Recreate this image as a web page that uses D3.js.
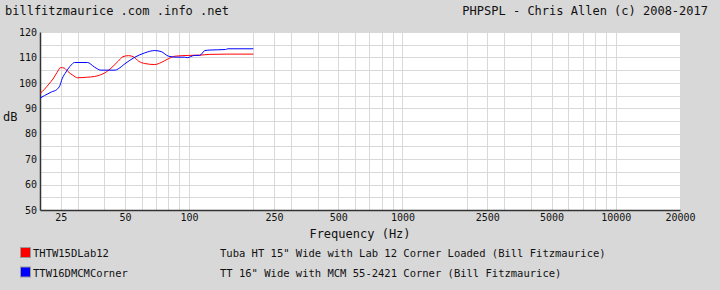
<!DOCTYPE html>
<html>
<head>
<meta charset="utf-8">
<script src="https://cdn.jsdelivr.net/npm/d3@7"></script>
<style>
  body { margin: 0; background: #d8d8d8; }
  text { font-family: "DejaVu Sans Mono", monospace; fill: #111; }
</style>
</head>
<body>
<div id="chart"></div>
<script>
// Chart data
var xTicks = [25, 50, 100, 250, 500, 1000, 2500, 5000, 10000, 20000];
var xGrid = [25, 30, 40, 50, 60, 70, 80, 90, 100, 200, 250, 300, 400, 500, 600, 700, 800, 900,
  1000, 2000, 2500, 3000, 4000, 5000, 6000, 7000, 8000, 9000, 10000];
var yTicks = [50, 60, 70, 80, 90, 100, 110, 120];

var seriesNames = ["THTW15DLab12", "TTW16DMCMCorner"];
var seriesDesc = ["Tuba HT 15\" Wide with Lab 12 Corner Loaded (Bill Fitzmaurice)",
  "TT 16\" Wide with MCM 55-2421 Corner (Bill Fitzmaurice)"];
var seriesColors = ["#ff0000", "#0000ff"];

var redFreq = [20, 21, 22, 23, 24, 25, 26, 27, 28.5, 30, 33, 36, 38, 40, 42, 44, 46.5, 49, 52, 55,
  58, 62, 69, 74, 80, 86, 100, 112, 125, 150, 200];
var redDb = [95.8, 97.5, 99.5, 101.5, 104, 106, 105.8, 104.5, 103, 102, 102.2, 102.5, 103, 103.8,
  105, 106.5, 108.5, 110.3, 110.7, 110.2, 108.5, 107.6, 107.2, 108, 109.5, 110.5, 110.8, 110.9,
  111.2, 111.3, 111.3];

var blueFreq = [20, 21, 22.6, 24, 24.8, 25.4, 26.5, 28, 29, 33.4, 36, 38.6, 45, 46.5, 50, 55.7, 62,
  69, 74, 80, 87, 95, 98, 106, 112, 118.6, 125, 148, 152, 200];
var blueDb = [94, 95, 96.4, 97.4, 99, 101.6, 104.3, 107, 108, 108, 106.2, 105, 105, 105.5, 107.5,
  110.1, 111.8, 112.7, 112.3, 110.5, 110.1, 110.1, 109.9, 110.8, 110.8, 112.7, 112.9, 113.1, 113.4,
  113.4];

var svgWidth = 720;
var svgHeight = 290;
var margin = { top: 32, right: 40, bottom: 80, left: 40 };
var chartWidth = svgWidth - margin.left - margin.right;
var chartHeight = svgHeight - margin.top - margin.bottom;

var svg = d3.select("#chart")
  .append("svg")
  .attr("width", svgWidth)
  .attr("height", svgHeight);

svg.append("rect")
  .attr("width", svgWidth)
  .attr("height", svgHeight)
  .attr("fill", "#d8d8d8");

svg.append("text")
  .attr("x", 5)
  .attr("y", 15)
  .style("font-size", "12px")
  .text("billfitzmaurice .com .info .net");

svg.append("text")
  .attr("x", 708)
  .attr("y", 15)
  .attr("text-anchor", "end")
  .style("font-size", "12px")
  .text("PHPSPL - Chris Allen (c) 2008-2017");

var chartGroup = svg.append("g")
  .attr("transform", `translate(${margin.left}, ${margin.top})`);

var xScale = d3.scaleLog()
  .domain([20, 20000])
  .range([0, chartWidth]);

var yScale = d3.scaleLinear()
  .domain([50, 120])
  .range([chartHeight, 0]);

chartGroup.append("rect")
  .attr("width", chartWidth)
  .attr("height", chartHeight)
  .attr("fill", "#ffffff");

// grid lines
chartGroup.append("g")
  .selectAll("line")
  .data(xGrid)
  .enter()
  .append("line")
  .attr("x1", d => Math.round(xScale(d)) + 0.5)
  .attr("x2", d => Math.round(xScale(d)) + 0.5)
  .attr("y1", 0)
  .attr("y2", chartHeight)
  .attr("stroke", "#d9d9d9")
  .attr("stroke-width", 1);

chartGroup.append("g")
  .selectAll("line")
  .data(d3.range(55, 121, 5))
  .enter()
  .append("line")
  .attr("x1", 0)
  .attr("x2", chartWidth)
  .attr("y1", d => Math.round(yScale(d)) + 0.5)
  .attr("y2", d => Math.round(yScale(d)) + 0.5)
  .attr("stroke", "#d9d9d9")
  .attr("stroke-width", 1);

// axes
var bottomAxis = d3.axisBottom(xScale)
  .tickValues(xTicks)
  .tickFormat(d3.format("d"))
  .tickSize(0)
  .tickPadding(4);

var leftAxis = d3.axisLeft(yScale)
  .tickValues(yTicks)
  .tickSize(0)
  .tickPadding(3);

var xAxisG = chartGroup.append("g")
  .attr("transform", `translate(0, ${chartHeight})`)
  .call(bottomAxis);

var yAxisG = chartGroup.append("g")
  .call(leftAxis);

[xAxisG, yAxisG].forEach(function(g) {
  g.select(".domain").attr("stroke", "#333").attr("stroke-width", 1.5);
  g.selectAll("text")
    .style("font-family", "DejaVu Sans Mono, monospace")
    .style("font-size", "10px")
    .attr("fill", "#111");
});

// curves
var line = d3.line()
  .x(d => xScale(d[0]))
  .y(d => yScale(d[1]))
  .curve(d3.curveMonotoneX);

var series = [
  d3.zip(redFreq, redDb),
  d3.zip(blueFreq, blueDb)
];

chartGroup.selectAll(".curve")
  .data(series)
  .enter()
  .append("path")
  .attr("class", "curve")
  .attr("d", line)
  .attr("fill", "none")
  .attr("stroke", (d, i) => seriesColors[i])
  .attr("stroke-width", 1);

// axis labels
svg.append("text")
  .attr("x", 3)
  .attr("y", 121)
  .style("font-size", "12px")
  .text("dB");

svg.append("text")
  .attr("x", margin.left + chartWidth / 2)
  .attr("y", 238)
  .attr("text-anchor", "middle")
  .style("font-size", "12px")
  .text("Frequency (Hz)");

// legend
var legend = svg.selectAll(".legend")
  .data(seriesNames)
  .enter()
  .append("g")
  .attr("class", "legend")
  .attr("transform", (d, i) => `translate(0, ${247 + i * 19.5})`);

legend.append("rect")
  .attr("x", 20.5)
  .attr("y", 0.5)
  .attr("width", 10)
  .attr("height", 10)
  .attr("fill", (d, i) => seriesColors[i])
  .attr("stroke", "#999")
  .attr("stroke-width", 1);

legend.append("text")
  .attr("x", 33)
  .attr("y", 10)
  .style("font-size", "10.5px")
  .text(d => d);

legend.append("text")
  .attr("x", 220)
  .attr("y", 10)
  .style("font-size", "10.5px")
  .text((d, i) => seriesDesc[i]);
</script>
</body>
</html>
